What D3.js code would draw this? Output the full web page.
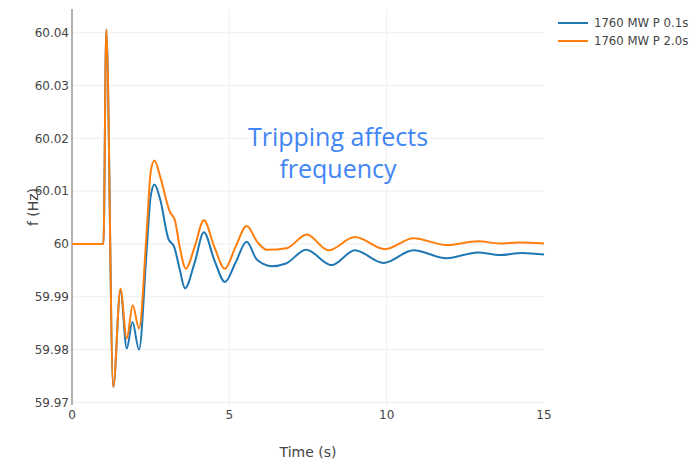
<!DOCTYPE html>
<html>
<head>
<meta charset="utf-8">
<script src="https://cdn.jsdelivr.net/npm/d3@7"></script>
<style>
    body { margin: 0; background: #fff; }
    svg { display: block; }
</style>
</head>
<body>
<svg id="chart" width="689" height="460"></svg>
<script>
// series
const seriesNames = ["1760 MW P 0.1s", "1760 MW P 2.0s"]
const seriesColors = ["#1f77b4", "#ff7f0e"]

const timeBlue = [0, 1.0, 1.09, 1.31, 1.54, 1.74, 1.92, 2.13, 2.37, 2.5, 2.62, 2.8, 3.06, 3.25, 3.43, 3.59,
    3.9, 4.19, 4.52, 4.86, 5.2, 5.55, 5.88, 6.35, 6.8, 7.44, 8.25, 8.99, 9.9, 10.85, 11.9, 12.9, 13.6, 14.3, 15]
const freqBlue = [60, 60, 60.0406, 59.9729, 59.9912, 59.9802, 59.9852, 59.98, 59.9985, 60.009, 60.01125, 60.0085,
    60.001, 59.9994, 59.995, 59.9916, 59.9965, 60.0022, 59.997, 59.9928, 59.9965, 60.0004, 59.997, 59.9958,
    59.9963, 59.9989, 59.996, 59.9988, 59.9964, 59.9988, 59.9973, 59.9984, 59.9979, 59.9983, 59.998]

const timeOrange = [0, 1.0, 1.09, 1.31, 1.54, 1.74, 1.93, 2.13, 2.37, 2.5, 2.62, 2.8, 3.11, 3.27, 3.43, 3.62,
    3.9, 4.19, 4.52, 4.86, 5.2, 5.55, 5.9, 6.19, 6.82, 7.46, 8.15, 8.99, 9.95, 10.85, 11.9, 12.9, 13.6, 14.2, 15]
const freqOrange = [60, 60, 60.0406, 59.9729, 59.9915, 59.9821, 59.9884, 59.984, 60.002, 60.0136, 60.0158, 60.0128,
    60.0061, 60.0045, 59.9992, 59.9953, 59.9995, 60.0045, 59.9995, 59.9953, 59.9995, 60.0034, 60.0003, 59.9989,
    59.9992, 60.0018, 59.9988, 60.0013, 59.999, 60.0011, 59.9998, 60.0005, 60.0001, 60.0003, 60.0001]

const xTicks = [0, 5, 10, 15]
const yTicks = [59.97, 59.98, 59.99, 60, 60.01, 60.02, 60.03, 60.04]
const annotationLines = ["Tripping affects", "frequency"]

const FONT = "'DejaVu Sans', Verdana, sans-serif",
    TEXT = "#444",
    GRID = "#eee"

let svg = d3.select("#chart"),
    plot = {left: 72, right: 544, top: 9, bottom: 405},
    xScale = d3.scaleLinear().domain([0, 15]).range([plot.left, plot.right]),
    yScale = d3.scaleLinear().domain([59.9695, 60.0445]).range([plot.bottom, plot.top]),
    series = [
        timeBlue.map((t, i) => ({t: t, f: freqBlue[i]})),
        timeOrange.map((t, i) => ({t: t, f: freqOrange[i]}))
    ],
    line = d3.line()
        .x(d => xScale(d.t))
        .y(d => yScale(d.f))
        .curve(d3.curveMonotoneX)

// grid lines
svg.append("g")
    .selectAll("line")
    .data(yTicks)
    .join("line")
    .attr("x1", plot.left)
    .attr("x2", plot.right)
    .attr("y1", d => yScale(d))
    .attr("y2", d => yScale(d))
    .style("stroke", GRID)

svg.append("g")
    .selectAll("line")
    .data(xTicks.slice(1, 3))
    .join("line")
    .attr("x1", d => xScale(d))
    .attr("x2", d => xScale(d))
    .attr("y1", plot.top)
    .attr("y2", plot.bottom)
    .style("stroke", GRID)

// y axis line
svg.append("line")
    .attr("x1", plot.left)
    .attr("x2", plot.left)
    .attr("y1", plot.top)
    .attr("y2", plot.bottom)
    .style("stroke", "#999")
    .style("stroke-width", 1.5)

// tick labels
svg.append("g")
    .selectAll("text")
    .data(yTicks)
    .join("text")
    .attr("x", plot.left - 3)
    .attr("y", d => yScale(d))
    .attr("dy", "0.35em")
    .attr("text-anchor", "end")
    .style("font", `12px ${FONT}`)
    .style("fill", TEXT)
    .text(d => d3.format("")(+d.toFixed(2)))

svg.append("g")
    .selectAll("text")
    .data(xTicks)
    .join("text")
    .attr("x", d => xScale(d))
    .attr("y", 419)
    .attr("text-anchor", "middle")
    .style("font", `12px ${FONT}`)
    .style("fill", TEXT)
    .text(d => d)

// series lines
svg.append("g")
    .selectAll("path")
    .data(series)
    .join("path")
    .attr("d", line)
    .attr("fill", "none")
    .attr("stroke", (d, i) => seriesColors[i])
    .attr("stroke-width", 2)
    .attr("stroke-linejoin", "round")

// axis titles
svg.append("text")
    .attr("x", (plot.left + plot.right) / 2)
    .attr("y", 457)
    .attr("text-anchor", "middle")
    .style("font", `14px ${FONT}`)
    .style("fill", TEXT)
    .text("Time (s)")

svg.append("text")
    .attr("transform", `translate(38, ${(plot.top + plot.bottom) / 2}) rotate(-90)`)
    .attr("text-anchor", "middle")
    .style("font", `14px ${FONT}`)
    .style("fill", TEXT)
    .text("f (Hz)")

// annotation
svg.append("g")
    .selectAll("text")
    .data(annotationLines)
    .join("text")
    .attr("x", 338)
    .attr("y", (d, i) => 146 + i * 32)
    .attr("text-anchor", "middle")
    .style("font", "25px 'Open Sans', Arial, sans-serif")
    .style("fill", "#4285f4")
    .text(d => d)

// legend
let legendRows = svg.append("g")
    .selectAll("g")
    .data(seriesNames)
    .join("g")
    .attr("transform", (d, i) => `translate(558, ${23 + i * 18})`)

legendRows.append("line")
    .attr("x1", 0)
    .attr("x2", 30)
    .attr("stroke", (d, i) => seriesColors[i])
    .attr("stroke-width", 2)

legendRows.append("text")
    .attr("x", 36)
    .attr("dy", "0.35em")
    .style("font", `11.7px ${FONT}`)
    .style("fill", TEXT)
    .text(d => d)
</script>
</body>
</html>
